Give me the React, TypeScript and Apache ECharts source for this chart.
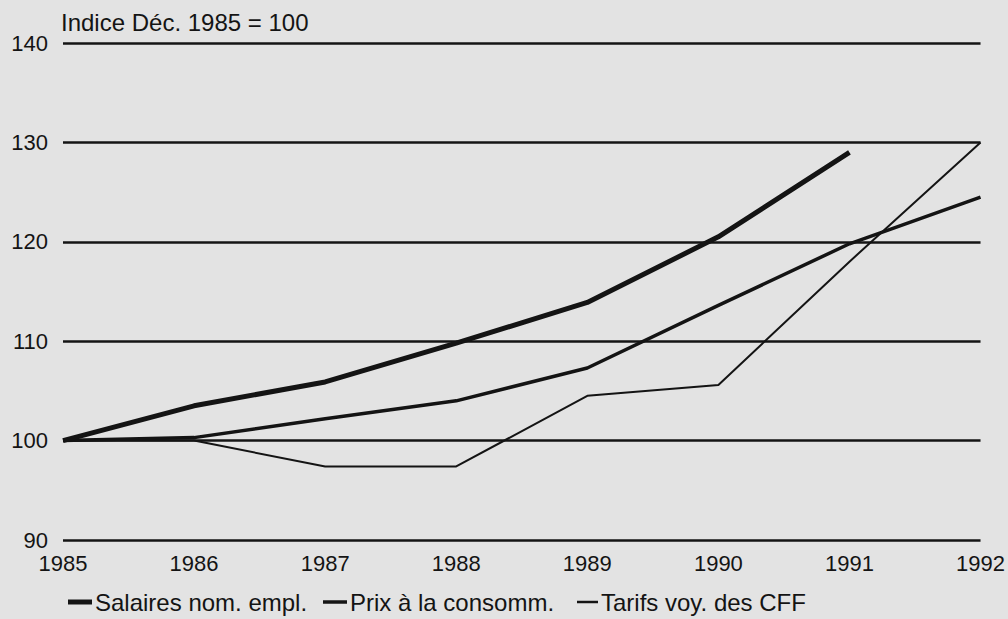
import React, { useEffect, useRef } from "react";
import * as echarts from "echarts";

const years = ["1985", "1986", "1987", "1988", "1989", "1990", "1991", "1992"];
const salaires = [100, 103.5, 105.9, 109.8, 113.9, 120.5, 129.0, null];
const prix = [100, 100.3, 102.2, 104.0, 107.3, 113.6, 119.8, 124.5];
const tarifs = [100, 100, 97.4, 97.4, 104.5, 105.6, 118.0, 130];
const seriesNames = ["Salaires nom. empl.", "Prix à la consomm.", "Tarifs voy. des CFF"];
const yTitle = "Indice Déc. 1985 = 100";

const FONT = "'Liberation Sans', Arial, Helvetica, sans-serif";
const INK = "#141414";

export default function App() {
  const ref = useRef<HTMLDivElement>(null);
  useEffect(() => {
    if (!ref.current) return;
    const chart = echarts.init(ref.current, undefined, { renderer: "svg" });
    const legendBase = {
      top: 590,
      padding: 0,
      icon: "rect",
      itemWidth: 24,
      textStyle: { color: INK, fontSize: 24, fontFamily: FONT, padding: [0, 0, 0, -2] },
      selectedMode: false,
      itemStyle: { color: INK },
    };
    chart.setOption({
      animation: false,
      backgroundColor: "#e3e3e3",
      textStyle: { fontFamily: FONT },
      title: {
        text: yTitle,
        left: 61,
        top: 10,
        padding: 0,
        textStyle: { color: INK, fontSize: 24, fontWeight: "normal", fontFamily: FONT },
      },
      legend: [
        { ...legendBase, left: 68, itemHeight: 5, data: [seriesNames[0]] },
        { ...legendBase, left: 323, itemHeight: 3.5, data: [seriesNames[1]] },
        { ...legendBase, left: 577, itemWidth: 21, itemHeight: 2.5, data: [seriesNames[2]] },
      ],
      grid: { left: 63, right: 26, top: 43, bottom: 79, containLabel: false },
      xAxis: {
        type: "category",
        data: years,
        boundaryGap: false,
        axisLine: { show: false },
        axisTick: { show: false },
        axisLabel: { color: INK, fontSize: 22, fontFamily: FONT, margin: 12 },
        splitLine: { show: false },
      },
      yAxis: {
        type: "value",
        min: 90,
        max: 140,
        interval: 10,
        axisLine: { show: false },
        axisTick: { show: false },
        axisLabel: { color: INK, fontSize: 22, fontFamily: FONT, margin: 15 },
        splitLine: { show: true, lineStyle: { color: INK, width: 2.5 } },
      },
      series: [
        {
          name: seriesNames[0],
          type: "line",
          data: salaires,
          symbol: "none",
          lineStyle: { color: INK, width: 5 },
          itemStyle: { color: INK },
          z: 4,
        },
        {
          name: seriesNames[1],
          type: "line",
          data: prix,
          symbol: "none",
          lineStyle: { color: INK, width: 3.5 },
          itemStyle: { color: INK },
          z: 3,
        },
        {
          name: seriesNames[2],
          type: "line",
          data: tarifs,
          symbol: "none",
          lineStyle: { color: INK, width: 2 },
          itemStyle: { color: INK },
          z: 3,
        },
      ],
    });
    return () => chart.dispose();
  }, []);
  return (
    <div
      ref={ref}
      style={{ position: "absolute", left: 0, top: 0, width: 1008, height: 619 }}
    />
  );
}
